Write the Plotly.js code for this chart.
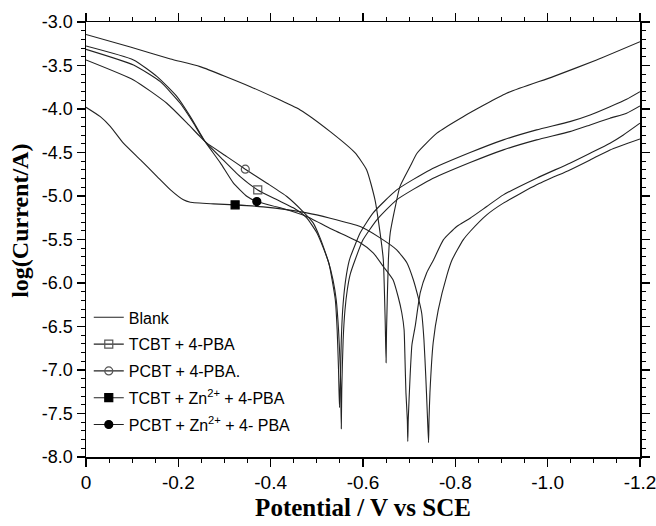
<!DOCTYPE html>
<html><head><meta charset="utf-8">
<script src="https://cdn.plot.ly/plotly-3.0.1.min.js"></script>
<style>html,body{margin:0;padding:0;background:#fff}#chart{width:656px;height:526px}</style>
</head><body><div id="chart"></div>
<script>
// Potential (V vs SCE) and log(Current/A) for each curve
const blankX = [0, -0.096, -0.183, -0.247, -0.356, -0.464, -0.529, -0.583, -0.608, -0.626, -0.637, -0.644, -0.648, -0.650, -0.651, -0.655, -0.659, -0.670, -0.680, -0.702, -0.717, -0.760, -0.817, -0.911, -1.012, -1.106, -1.200];
const blankY = [-3.144, -3.287, -3.425, -3.513, -3.743, -4.011, -4.260, -4.505, -4.700, -5.044, -5.423, -5.733, -6.423, -6.916, -6.537, -5.733, -5.423, -5.121, -4.892, -4.662, -4.508, -4.278, -4.088, -3.819, -3.628, -3.436, -3.226];

const tcbtX = [0, -0.103, -0.161, -0.204, -0.233, -0.255, -0.297, -0.334, -0.372, -0.414, -0.449, -0.478, -0.500, -0.514, -0.525, -0.535, -0.542, -0.547, -0.551, -0.553, -0.554, -0.557, -0.561, -0.566, -0.572, -0.583, -0.600, -0.630, -0.673, -0.745, -0.832, -0.904, -0.976, -1.048, -1.092, -1.135, -1.171, -1.200];
const tcbtY = [-3.314, -3.494, -3.686, -3.934, -4.163, -4.355, -4.585, -4.777, -4.930, -5.044, -5.136, -5.251, -5.423, -5.596, -5.756, -5.963, -6.193, -6.537, -6.997, -7.674, -7.227, -6.652, -6.308, -6.078, -5.906, -5.733, -5.504, -5.274, -5.044, -4.815, -4.616, -4.470, -4.355, -4.260, -4.183, -4.106, -4.049, -3.965];

const pcbtX = [0, -0.103, -0.175, -0.219, -0.247, -0.262, -0.305, -0.345, -0.392, -0.435, -0.470, -0.492, -0.507, -0.518, -0.527, -0.533, -0.540, -0.544, -0.547, -0.549, -0.551, -0.553, -0.556, -0.561, -0.568, -0.572, -0.594, -0.622, -0.673, -0.745, -0.832, -0.904, -0.976, -1.048, -1.092, -1.135, -1.171, -1.200];
const pcbtY = [-3.436, -3.666, -3.934, -4.163, -4.317, -4.393, -4.547, -4.692, -4.853, -5.006, -5.179, -5.309, -5.481, -5.642, -5.791, -5.963, -6.193, -6.537, -6.997, -7.433, -7.112, -6.652, -6.308, -6.021, -5.791, -5.711, -5.423, -5.194, -4.930, -4.700, -4.501, -4.355, -4.240, -4.145, -4.068, -3.973, -3.888, -3.801];

const znTcbtX = [0, -0.031, -0.053, -0.081, -0.118, -0.154, -0.183, -0.211, -0.226, -0.276, -0.323, -0.384, -0.478, -0.529, -0.594, -0.637, -0.673, -0.695, -0.709, -0.719, -0.727, -0.732, -0.736, -0.739, -0.742, -0.743, -0.745, -0.752, -0.763, -0.782, -0.793, -0.817, -0.832, -0.868, -0.904, -0.976, -1.048, -1.092, -1.135, -1.200];
const znTcbtY = [-3.980, -4.088, -4.202, -4.393, -4.585, -4.777, -4.930, -5.044, -5.071, -5.090, -5.102, -5.125, -5.194, -5.255, -5.351, -5.481, -5.619, -5.768, -5.963, -6.155, -6.342, -6.652, -7.077, -7.456, -7.835, -7.571, -7.261, -6.687, -6.308, -5.906, -5.733, -5.504, -5.408, -5.217, -5.082, -4.872, -4.700, -4.585, -4.470, -4.344];

const znPcbtX = [0, -0.103, -0.154, -0.197, -0.226, -0.247, -0.258, -0.291, -0.319, -0.349, -0.370, -0.421, -0.478, -0.535, -0.594, -0.622, -0.644, -0.665, -0.676, -0.684, -0.689, -0.691, -0.693, -0.696, -0.697, -0.698, -0.702, -0.706, -0.713, -0.724, -0.738, -0.753, -0.774, -0.803, -0.832, -0.868, -0.904, -0.976, -1.048, -1.092, -1.135, -1.164, -1.200];
const znPcbtY = [-3.276, -3.436, -3.628, -3.858, -4.088, -4.278, -4.375, -4.619, -4.849, -5.006, -5.064, -5.136, -5.236, -5.389, -5.538, -5.653, -5.810, -5.963, -6.155, -6.342, -6.537, -6.882, -7.261, -7.571, -7.820, -7.571, -7.074, -6.710, -6.499, -6.112, -5.883, -5.733, -5.504, -5.351, -5.255, -5.121, -4.987, -4.795, -4.623, -4.508, -4.393, -4.298, -4.163];

// index of the single identifying symbol drawn on each curve
const tcbtMark = 8, pcbtMark = 7, znTcbtMark = 10, znPcbtMark = 10;

const seriesNames = ['Blank', 'TCBT + 4-PBA', 'PCBT + 4-PBA.', 'TCBT + Zn<sup>2+</sup> + 4-PBA', 'PCBT + Zn<sup>2+</sup> + 4- PBA'];

const xTickVals = [0, -0.2, -0.4, -0.6, -0.8, -1.0, -1.2];
const xTickText = ['0', '-0.2', '-0.4', '-0.6', '-0.8', '-1.0', '-1.2'];
const yTickVals = [-3.0, -3.5, -4.0, -4.5, -5.0, -5.5, -6.0, -6.5, -7.0, -7.5, -8.0];
const yTickText = ['-3.0', '-3.5', '-4.0', '-4.5', '-5.0', '-5.5', '-6.0', '-6.5', '-7.0', '-7.5', '-8.0'];

const xTitle = 'Potential / V vs SCE';
const yTitle = 'log(Current/A)';

const lineStyle = {color: '#222', width: 1.1, shape: 'spline', smoothing: 0.5};

function curve(x, y, name, show, grp) {
  return {x: x, y: y, type: 'scatter', mode: 'lines', name: name, line: lineStyle,
          showlegend: show, legendgroup: grp, hoverinfo: 'skip'};
}
function mark(x, y, i, name, symbol, color, grp) {
  return {x: [x[i]], y: [y[i]], type: 'scatter', mode: 'lines+markers', name: name,
          line: {color: '#222', width: 1.1}, legendgroup: grp,
          marker: {symbol: symbol, size: 8, color: color, line: {color: color, width: 1.2}}};
}

const traces = [
  curve(blankX, blankY, seriesNames[0], true, 'g1'),
  curve(tcbtX, tcbtY, seriesNames[1], false, 'g2'),
  curve(pcbtX, pcbtY, seriesNames[2], false, 'g3'),
  curve(znTcbtX, znTcbtY, seriesNames[3], false, 'g4'),
  curve(znPcbtX, znPcbtY, seriesNames[4], false, 'g5'),
  mark(tcbtX, tcbtY, tcbtMark, seriesNames[1], 'square-open', '#555', 'g2'),
  mark(pcbtX, pcbtY, pcbtMark, seriesNames[2], 'circle-open', '#555', 'g3'),
  mark(znTcbtX, znTcbtY, znTcbtMark, seriesNames[3], 'square', '#000', 'g4'),
  mark(znPcbtX, znPcbtY, znPcbtMark, seriesNames[4], 'circle', '#000', 'g5')
];

const serif = 'Liberation Serif, Times New Roman, serif';
const sans = 'Liberation Sans, Arial, sans-serif';

const layout = {
  width: 656, height: 526,
  margin: {l: 86, r: 16, t: 22, b: 69},
  paper_bgcolor: '#fff', plot_bgcolor: '#fff',
  showlegend: true,
  legend: {x: 0.005, y: 0.36, xanchor: 'left', yanchor: 'top', bgcolor: 'rgba(0,0,0,0)',
           font: {family: sans, size: 16, color: '#000'},
           tracegroupgap: 3, traceorder: 'grouped'},
  xaxis: {
    range: [0, -1.2], autorange: false,
    tickvals: xTickVals, ticktext: xTickText, ticklabeloverflow: 'allow',
    tickfont: {family: sans, size: 19, color: '#000'},
    ticks: 'outside', ticklen: 8, tickwidth: 1.2, tickcolor: '#000',
    minor: {dtick: 0.05, ticks: 'outside', ticklen: 4, tickwidth: 1, tickcolor: '#000'},
    showline: true, linecolor: '#000', linewidth: 1.5, mirror: 'ticks',
    showgrid: false, zeroline: false,
    title: {text: xTitle, standoff: 6,
            font: {family: serif, size: 25, color: '#000', weight: 'bold'}}
  },
  yaxis: {
    range: [-8, -3], autorange: false,
    tickvals: yTickVals, ticktext: yTickText, ticklabeloverflow: 'allow',
    tickfont: {family: sans, size: 18, color: '#000'},
    ticks: 'outside', ticklen: 8, tickwidth: 1.2, tickcolor: '#000',
    minor: {dtick: 0.1, ticks: 'outside', ticklen: 4, tickwidth: 1, tickcolor: '#000'},
    showline: true, linecolor: '#000', linewidth: 1.5, mirror: 'ticks',
    showgrid: false, zeroline: false
  },
  annotations: [{
    text: yTitle, xref: 'paper', yref: 'paper', x: 0, y: 0.543, xshift: -66,
    xanchor: 'center', yanchor: 'middle', textangle: -90, showarrow: false,
    font: {family: serif, size: 24, color: '#000', weight: 'bold'}
  }]
};

Plotly.newPlot('chart', traces, layout, {displayModeBar: false, staticPlot: true});
</script>
</body></html>
